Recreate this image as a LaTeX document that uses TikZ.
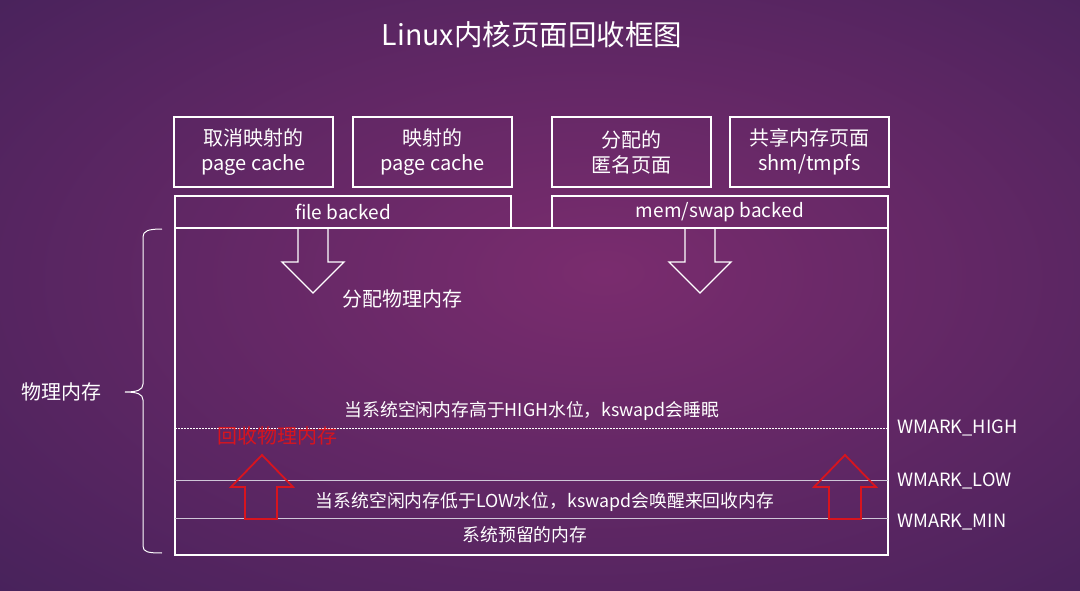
\documentclass[tikz,border=0pt]{standalone}
\usepackage{fontspec}
\setmainfont{Noto Sans CJK SC}
\usetikzlibrary{positioning}
\definecolor{bgin}{HTML}{7A2C6E}
\definecolor{bgout}{HTML}{3C2057}
\definecolor{bgcorner}{HTML}{2B1D4C}
\definecolor{lvlgray}{HTML}{CFC6D8}
\definecolor{reclaimred}{HTML}{D8141E}
\pgfdeclareradialshading{slidebg}{\pgfpoint{3bp}{2bp}}{color(0bp)=(bgin); color(46bp)=(bgout); color(72bp)=(bgcorner)}
\begin{document}
\begin{tikzpicture}[x=1pt,y=-1pt,line join=miter,
    every node/.style={text=white,inner sep=0pt},
    pagebox/.style={draw=white,line width=1.4pt,minimum width=159pt,minimum height=70pt,align=center,font=\fontsize{20}{25}\selectfont},
    backedbox/.style={draw=white,line width=1.4pt,minimum width=336pt,minimum height=32pt,font=\fontsize{19}{22}\selectfont},
    lvltext/.style={font=\fontsize{17.8}{20}\selectfont},
    wmark/.style={anchor=west,font=\fontsize{18.3}{20}\selectfont},
    bigtext/.style={font=\fontsize{20}{24}\selectfont}]
  \useasboundingbox (0,0) rectangle (1080,591);
  \shade[shading=slidebg] (0,0) rectangle (1080,591);
  \node[font=\fontsize{28.5}{32}\selectfont] (title) at (532,35) {Linux内核页面回收框图};
  % page sources
  \node[pagebox] (unmapped) at (253.5,152) {取消映射的\\page cache};
  \node[pagebox] (mapped) at (432.5,152) {映射的\\page cache};
  \node[pagebox] (anon) at (631.5,152) {分配的\\匿名页面};
  \node[pagebox] (shm) at (809.5,152) {共享内存页面\\shm/tmpfs};
  \node[backedbox] (file) at (343,212) {file backed};
  \node[backedbox] (memswap) at (720,212) {mem/swap backed};
  % physical memory
  \node[draw=white,line width=1.4pt,minimum width=713pt,minimum height=327pt] (mem) at (531.5,391.5) {};
  \draw[white,line width=1.4pt] (298,228) -- (298,262) -- (282,262) -- (313,293) -- (344,262) -- (328,262) -- (328,228);
  \draw[white,line width=1.4pt] (685,228) -- (685,262) -- (669,262) -- (700,293) -- (731,262) -- (715,262) -- (715,228);
  \node[bigtext] (alloc) at (402,299) {分配物理内存};
  % watermark levels
  \draw[white,dashed,dash pattern=on 2pt off 1pt,line width=0.6pt] (175,428) -- (888,428);
  \draw[lvlgray,line width=1pt] (175,480) -- (888,480);
  \draw[lvlgray,line width=1pt] (175,518) -- (888,518);
  \node[lvltext] (sleep) at (532,411) {当系统空闲内存高于HIGH水位，kswapd会睡眠};
  \node[lvltext] (wake) at (545,502) {当系统空闲内存低于LOW水位，kswapd会唤醒来回收内存};
  \node[lvltext] (reserved) at (525,535) {系统预留的内存};
  \node[wmark] (high) at (897,428) {WMARK\_HIGH};
  \node[wmark] (low) at (897,481) {WMARK\_LOW};
  \node[wmark] (min) at (897,522) {WMARK\_MIN};
  % reclaim
  \draw[reclaimred,line width=1.8pt] (245,519) -- (245,487) -- (231,487) -- (262,455) -- (293,487) -- (277,487) -- (277,519) -- cycle;
  \draw[reclaimred,line width=1.8pt] (829,519) -- (829,487) -- (814,487) -- (845,455) -- (876,487) -- (861,487) -- (861,519) -- cycle;
  \node[bigtext,text=reclaimred] (reclaim) at (277,436) {回收物理内存};
  % brace
  \draw[white,line width=1pt] (162,229) .. controls (148,229) and (143,231) .. (143,237) -- (143,384)
    .. controls (143,390) and (137,392) .. (125,392) .. controls (137,392) and (143,394) .. (143,400)
    -- (143,546) .. controls (143,552) and (148,553) .. (162,553);
  \node[bigtext] (phys) at (61,392) {物理内存};
\end{tikzpicture}
\end{document}
